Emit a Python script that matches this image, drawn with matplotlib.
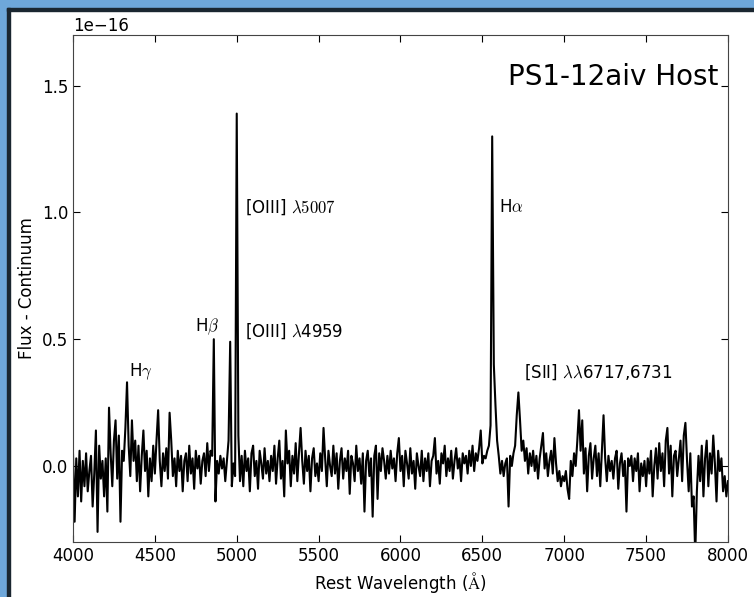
import numpy as np
import matplotlib
matplotlib.use('Agg')
import matplotlib.pyplot as plt
from matplotlib.patches import Rectangle

plt.rcParams['mathtext.fontset'] = 'cm'
plt.rcParams['font.family'] = 'DejaVu Sans'

# rest wavelength grid (Angstrom), 10 A steps
wave = np.arange(4000, 8010, 10)

# flux minus continuum, units of 1e-16
flux = [
    # 4000-4190
    0.05, -0.22, 0.03, -0.12, 0.06, -0.14, 0.02, -0.08, 0.05, -0.10,
    -0.02, 0.04, -0.16, -0.03, 0.14, -0.26, 0.08, -0.05, 0.02, -0.12,
    # 4200-4390
    0.03, -0.18, 0.23, 0.05, -0.08, 0.10, 0.18, -0.05, 0.12, -0.22,
    0.06, 0.02, 0.15, 0.33, 0.08, -0.04, 0.18, 0.02, 0.10, -0.06,
    # 4400-4590
    0.08, -0.10, 0.04, 0.14, -0.02, 0.06, -0.12, 0.03, -0.06, 0.08,
    -0.03, 0.10, 0.22, 0.02, -0.08, 0.05, -0.02, 0.07, -0.05, 0.21,
    # 4600-4790
    0.10, -0.04, 0.03, -0.08, 0.06, -0.02, 0.04, -0.10, 0.02, 0.05,
    -0.06, 0.08, -0.03, 0.03, -0.09, 0.06, -0.01, 0.04, -0.07, 0.02,
    # 4800-4990
    0.05, -0.04, 0.09, -0.02, 0.06, 0.04, 0.50, -0.14, 0.02, -0.03,
    0.04, -0.01, 0.03, -0.06, 0.02, 0.10, 0.49, -0.08, 0.01, -0.04,
    # 5000-5190
    1.39, 0.12, -0.06, 0.04, -0.08, 0.06, -0.02, 0.03, -0.10, 0.05,
    0.08, -0.04, 0.02, -0.09, 0.06, 0.01, -0.05, 0.07, -0.03, 0.02,
    # 5200-5390
    -0.06, 0.04, -0.02, 0.08, -0.07, 0.03, 0.10, -0.05, 0.02, -0.12,
    0.14, 0.01, 0.06, -0.08, 0.04, -0.03, 0.09, -0.06, 0.05, 0.15,
    # 5400-5590
    0.02, -0.07, 0.06, -0.02, 0.04, -0.10, 0.03, 0.07, -0.04, 0.01,
    -0.06, 0.05, -0.02, 0.15, 0.03, -0.08, 0.06, 0.00, -0.04, 0.08,
    # 5600-5790
    -0.03, 0.05, -0.09, 0.02, 0.07, -0.05, 0.03, -0.02, 0.06, -0.11,
    0.04, 0.01, -0.06, 0.08, -0.02, 0.03, -0.07, 0.05, -0.18, 0.02,
    # 5800-5990
    0.06, -0.04, 0.03, -0.20, 0.04, 0.08, -0.13, 0.05, -0.02, 0.07,
    0.02, -0.05, 0.04, -0.03, 0.06, -0.01, 0.03, -0.06, 0.05, 0.11,
    # 6000-6190
    -0.02, 0.04, -0.08, 0.06, 0.01, -0.05, 0.07, -0.03, 0.02, -0.09,
    0.05, 0.00, -0.04, 0.06, -0.06, 0.03, -0.02, 0.05, -0.08, 0.02,
    # 6200-6390
    0.04, 0.11, -0.03, 0.02, -0.07, 0.05, 0.01, 0.08, -0.04, 0.03,
    -0.02, 0.06, -0.05, 0.02, 0.07, -0.01, 0.03, -0.06, 0.05, 0.01,
    # 6400-6590
    0.04, -0.03, 0.06, 0.00, 0.08, -0.02, 0.05, 0.02, 0.07, 0.14,
    0.01, 0.04, 0.03, 0.06, 0.08, 0.16, 1.30, 0.40, 0.24, 0.10,
    # 6600-6790
    0.04, -0.03, 0.02, -0.04, 0.01, 0.03, -0.16, 0.04, 0.00, 0.05,
    0.08, 0.20, 0.29, 0.18, 0.06, 0.10, 0.02, 0.07, -0.03, 0.05,
    # 6800-6990
    0.00, 0.06, -0.02, 0.04, -0.05, 0.03, 0.08, 0.13, -0.01, 0.05,
    -0.04, 0.02, 0.06, -0.03, 0.11, 0.01, -0.06, -0.02, -0.08, -0.04,
    # 7000-7190
    -0.06, -0.02, -0.09, -0.13, 0.02, -0.04, 0.05, 0.00, 0.10, 0.22,
    0.06, 0.18, -0.03, 0.07, -0.10, 0.04, 0.09, -0.05, 0.03, 0.08,
    # 7200-7390
    -0.04, 0.05, -0.08, 0.06, 0.20, 0.03, -0.06, 0.04, -0.02, 0.02,
    -0.05, 0.03, 0.06, -0.09, 0.01, 0.05, -0.04, 0.02, -0.18, 0.03,
    # 7400-7590
    0.00, 0.04, -0.06, 0.03, -0.02, 0.05, -0.10, 0.01, -0.04, 0.02,
    -0.08, 0.03, -0.03, 0.06, -0.12, 0.00, 0.07, -0.05, 0.09, -0.02,
    # 7600-7790
    0.05, -0.08, 0.10, 0.15, -0.03, 0.08, -0.12, 0.04, 0.06, -0.04,
    0.03, 0.10, -0.06, 0.12, 0.17, 0.02, -0.10, 0.05, -0.16, -0.12,
    # 7800-8000
    -0.35, -0.10, 0.04, -0.06, 0.08, -0.12, 0.03, 0.10, -0.08, 0.05,
    -0.03, 0.12, 0.01, -0.14, 0.06, -0.02, 0.03, -0.10, -0.04, -0.12,
    -0.06,
]

# line labels: text, left wavelength, height (1e-16)
line_names = ['H$\\gamma$', 'H$\\beta$', '[OIII] $\\lambda$4959',
              '[OIII] $\\lambda5007$', 'H$\\alpha$',
              '[SII] $\\lambda\\lambda$6717,6731']
label_wave = [4345, 4745, 5050, 5050, 6600, 6755]
label_flux = [0.37, 0.55, 0.53, 1.02, 1.02, 0.37]


def draw_frame(fig):
    w, h = fig.get_size_inches() * fig.dpi
    blue = '#6ea7da'
    fig.patches.append(Rectangle((0, 0), 7 / w, 1, transform=fig.transFigure,
                                 color=blue, zorder=0))
    fig.patches.append(Rectangle((0, 1 - 8 / h), 1, 8 / h, transform=fig.transFigure,
                                 color=blue, zorder=0))
    fig.patches.append(Rectangle((7 / w, 0), 3 / w, 1 - 8 / h, transform=fig.transFigure,
                                 color='#1a2630', zorder=0))
    fig.patches.append(Rectangle((7 / w, 1 - 11 / h), 1, 3 / h, transform=fig.transFigure,
                                 color='#1a2630', zorder=0))


def main():
    fig = plt.figure(figsize=(7.54, 5.97), dpi=100)
    ax = fig.add_axes([0.0968, 0.0921, 0.8687, 0.8493])

    ax.plot(wave, np.array(flux) * 1e-16, color='black', lw=1.5)

    ax.set_xlim(4000, 8000)
    ax.set_ylim(-0.3e-16, 1.7e-16)
    ax.set_xticks(np.arange(4000, 8001, 500))
    ax.set_yticks(np.arange(0, 1.6e-16, 0.5e-16))
    ax.tick_params(direction='in', top=True, right=True, labelsize=12, length=5)
    ax.yaxis.get_offset_text().set_fontsize(12)
    for s in ax.spines.values():
        s.set_color('#444444')

    ax.set_xlabel(r'Rest Wavelength ($\mathrm{\AA}$)', fontsize=12)
    ax.set_ylabel('Flux - Continuum', fontsize=12)

    for name, lw_, lf in zip(line_names, label_wave, label_flux):
        ax.text(lw_, lf * 1e-16, name, fontsize=12, va='center', ha='left')

    ax.text(0.985, 0.945, 'PS1-12aiv Host', transform=ax.transAxes,
            fontsize=20, ha='right', va='top')

    draw_frame(fig)
    fig.savefig('out.png', dpi=100)


if __name__ == "__main__":
    main()
